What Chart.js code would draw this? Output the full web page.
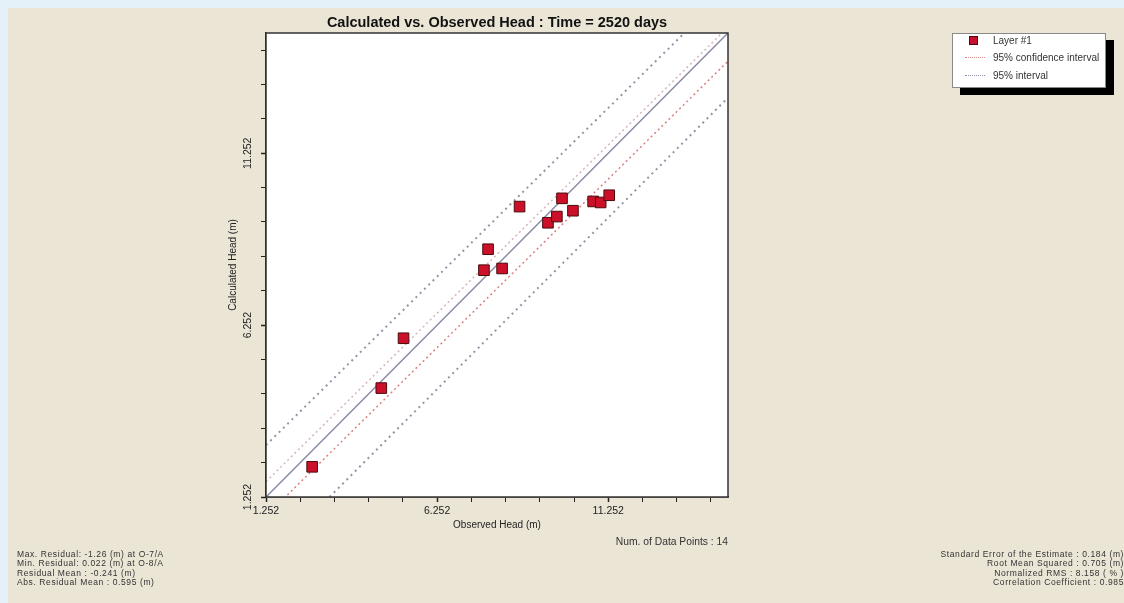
<!DOCTYPE html>
<html>
<head>
<meta charset="utf-8">
<script src="https://cdn.jsdelivr.net/npm/chart.js@4.4.1/dist/chart.umd.min.js"></script>
<style>
  html, body { margin: 0; padding: 0; }
  body { width: 1124px; height: 603px; background: #e4f1f8; position: relative; overflow: hidden;
         font-family: "Liberation Sans", Arial, sans-serif; color: #333; }
  #paper { position: absolute; left: 8px; top: 8px; right: 0; bottom: 0; background: #ebe5d6; }
  #chartBox { position: absolute; left: 0; top: 0; width: 1124px; height: 603px; }
  .title { position: absolute; left: 266px; width: 462px; top: 14px; text-align: center;
           font: bold 14.5px "Liberation Sans", Arial, sans-serif; color: #111; }
  .stats { position: absolute; font-size: 8.5px; letter-spacing: 0.6px; line-height: 9.3px; white-space: nowrap; }
  #statsLeft { left: 17px; top: 550px; }
  #statsRight { right: 0px; top: 550px; text-align: right; }
  #numPoints { position: absolute; right: 396px; top: 536px; font-size: 10.3px; white-space: nowrap; }
  #legend { position: absolute; left: 952px; top: 33px; width: 152px; height: 53px; background: #fff;
            border: 1px solid #8a8a8a; box-shadow: 8px 7px 0 #000; font-size: 10px; }
  #legend .row { position: absolute; left: 0; height: 12px; line-height: 12px; }
  #legend .txt { position: absolute; left: 40px; white-space: nowrap; }
  #legend .sq { position: absolute; left: 16px; top: 1px; width: 7px; height: 7px; background: #c8102e;
                border: 1px solid #4a0c0c; }
  #legend .dash { position: absolute; left: 12px; top: 5px; width: 20px; height: 0; border-top: 1.5px dotted; }
</style>
</head>
<body>
<div id="paper"></div>
<div id="chartBox"><canvas id="headChart" width="1124" height="603"></canvas></div>
<div class="title">Calculated vs. Observed Head : Time = 2520 days</div>
<div id="legend">
  <div class="row" style="top:1px"><span class="sq"></span><span class="txt">Layer #1</span></div>
  <div class="row" style="top:18px"><span class="dash" style="border-color:#d98a8a"></span><span class="txt">95% confidence interval</span></div>
  <div class="row" style="top:36px"><span class="dash" style="border-color:#8e90a6"></span><span class="txt">95% interval</span></div>
</div>
<div id="numPoints">Num. of Data Points : 14</div>
<div id="statsLeft" class="stats">
  Max. Residual: -1.26 (m) at O-7/A<br>
  Min. Residual: 0.022 (m) at O-8/A<br>
  Residual Mean : -0.241 (m)<br>
  Abs. Residual Mean : 0.595 (m)
</div>
<div id="statsRight" class="stats">
  Standard Error of the Estimate : 0.184 (m)<br>
  Root Mean Squared : 0.705 (m)<br>
  Normalized RMS : 8.158 ( % )<br>
  Correlation Coefficient : 0.985
</div>
<script>
// observed / calculated head of Layer #1 (m)
const observedHead = [2.60, 4.62, 5.27, 7.62, 7.74, 8.15, 8.66, 9.49, 9.75, 9.90, 10.22, 10.81, 11.03, 11.28];
const calculatedHead = [2.13, 4.42, 5.87, 7.85, 8.46, 7.90, 9.70, 9.23, 9.41, 9.94, 9.58, 9.85, 9.82, 10.03];

// reference lines, values at the two ends of the axis
const lineEnds = [1.252, 14.75];
const oneToOne = [1.252, 14.75];
const confUpper = [1.70, 14.92];
const confLower = [0.70, 13.93];
const intervalUpper = [2.76, 16.0];
const intervalLower = [-0.60, 12.87];

// axis ticks
const axisMin = 1.252;
const axisMax = 14.75;
const tickValues = [1.252, 2.252, 3.252, 4.252, 5.252, 6.252, 7.252, 8.252, 9.252, 10.252, 11.252, 12.252, 13.252, 14.252];
const tickLabels = ["1.252", "", "", "", "", "6.252", "", "", "", "", "11.252", "", "", ""];

const FONT = "'Liberation Sans', Arial, sans-serif";

function pairs(xs, ys) {
  return xs.map((x, i) => ({ x: x, y: ys[i] }));
}

function refLine(values, color, dash, width) {
  return {
    type: "line",
    data: pairs(lineEnds, values),
    borderColor: color,
    borderWidth: width,
    borderDash: dash,
    pointRadius: 0,
    showLine: true,
    fill: false,
  };
}

// white plot area with a dark frame
const plotFrame = {
  id: "plotFrame",
  beforeDatasetsDraw(chart) {
    const { ctx, chartArea: a } = chart;
    ctx.save();
    ctx.fillStyle = "#fff";
    ctx.fillRect(a.left, a.top, a.right - a.left, a.bottom - a.top);
    ctx.restore();
  },
  afterDraw(chart) {
    const { ctx, chartArea: a } = chart;
    ctx.save();
    ctx.strokeStyle = "#333";
    ctx.lineWidth = 1.5;
    ctx.strokeRect(a.left, a.top, a.right - a.left, a.bottom - a.top);
    ctx.restore();
  },
};

function axisOptions(title, isY) {
  return {
    type: "linear",
    min: axisMin,
    max: axisMax,
    afterBuildTicks: (scale) => {
      scale.ticks = tickValues.map((v) => ({ value: v }));
    },
    afterFit: (scale) => {
      if (isY) scale.width = 42;
      else scale.height = 37;
    },
    ticks: {
      autoSkip: false,
      padding: isY ? -3 : 3,
      color: "#222",
      font: { family: FONT, size: 10.5 },
      minRotation: isY ? 90 : 0,
      maxRotation: isY ? 90 : 0,
      crossAlign: isY ? "center" : "near",
      callback: (value, index) => tickLabels[index],
    },
    grid: {
      drawOnChartArea: false,
      drawTicks: true,
      tickLength: 5,
      tickColor: "#222",
      tickWidth: (ctx) => (tickLabels[ctx.index] ? 1.5 : 1),
    },
    border: { display: true, color: "#222", width: 1.5 },
    title: {
      display: true,
      text: title,
      color: "#222",
      font: { family: FONT, size: 10 },
      padding: { top: 3, bottom: 3 },
    },
  };
}

new Chart(document.getElementById("headChart"), {
  type: "scatter",
  data: {
    datasets: [
      {
        label: "Layer #1",
        data: pairs(observedHead, calculatedHead),
        pointStyle: "rect",
        pointRadius: 7.5,
        backgroundColor: "#cc1029",
        borderColor: "#4a0c0c",
        borderWidth: 1,
      },
      refLine(oneToOne, "#8a8aa6", [], 1.5),
      refLine(confUpper, "#d6b4bc", [2, 3], 1.5),
      refLine(confLower, "#d98080", [2, 3], 1.5),
      refLine(intervalUpper, "#9496a8", [2, 4], 2),
      refLine(intervalLower, "#9496a8", [2, 4], 2),
    ],
  },
  options: {
    responsive: false,
    animation: false,
    layout: { padding: { left: 224, right: 396, top: 33, bottom: 69 } },
    plugins: {
      legend: { display: false },
      tooltip: { enabled: false },
    },
    scales: {
      x: axisOptions("Observed Head (m)", false),
      y: axisOptions("Calculated Head (m)", true),
    },
  },
  plugins: [plotFrame],
});
</script>
</body>
</html>
